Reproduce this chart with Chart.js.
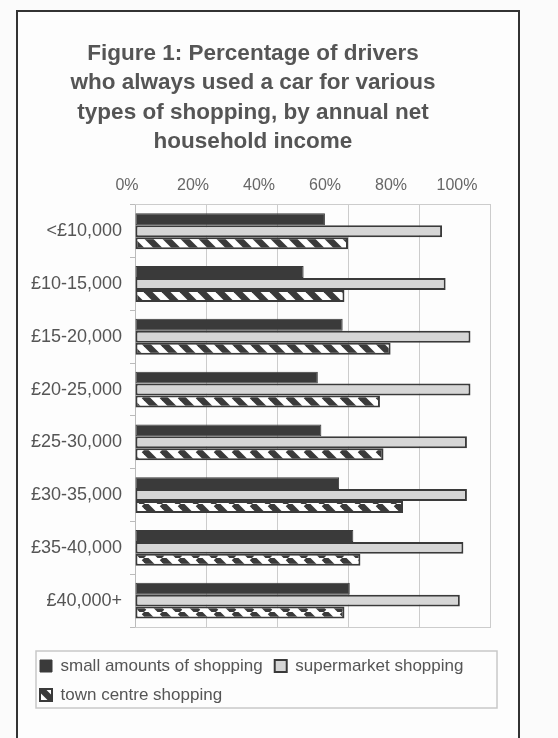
<!DOCTYPE html>
<html>
<head>
<meta charset="utf-8">
<script src="https://cdn.jsdelivr.net/npm/chart.js@4.4.1/dist/chart.umd.min.js"></script>
<style>
  html, body { margin: 0; padding: 0; background: #fbfbfb; }
  body { width: 558px; height: 738px; position: relative; overflow: hidden; }
  #frame { position: absolute; left: 16px; top: 10px; width: 500px; height: 800px; border: 2px solid #333; background: #fdfdfd; }
  #chart { position: absolute; left: 0; top: 0; }
</style>
</head>
<body>
<div id="frame"></div>
<canvas id="chart" width="558" height="738"></canvas>
<script>
// income bands and % of drivers who always used a car
const incomeBands = ['<£10,000', '£10-15,000', '£15-20,000', '£20-25,000', '£25-30,000', '£30-35,000', '£35-40,000', '£40,000+'];
const smallShopping = [53.5, 47.5, 58.5, 51.5, 52.5, 57.5, 61.5, 60.5];
const supermarketShopping = [86.5, 87.5, 94.5, 94.5, 93.5, 93.5, 92.5, 91.5];
const townCentreShopping = [60, 59, 72, 69, 70, 75.5, 63.5, 59];
const percentTicks = [0, 20, 40, 60, 80, 100];

const FONT = "'Liberation Sans', Arial, sans-serif";
const DARK = '#3a3a3a';

// diagonal hatch for the town centre bars
function makeHatch() {
    const p = 18;
    const c = document.createElement('canvas');
    c.width = p; c.height = p;
    const g = c.getContext('2d');
    g.fillStyle = '#ffffff';
    g.fillRect(0, 0, p, p);
    g.strokeStyle = DARK;
    g.lineWidth = 6.4;
    [-p, 0, p].forEach(function (o) {
        g.beginPath();
        g.moveTo(o, 0);
        g.lineTo(o + p, p);
        g.stroke();
    });
    return g.createPattern(c, 'repeat');
}
const hatch = makeHatch();

// nudge the legend and draw its box
const legendFrame = {
    id: 'legendFrame',
    afterLayout(chart) {
        const lg = chart.legend;
        lg.left += 12;
        lg.right += 12;
    },
    afterDraw(chart) {
        const lg = chart.legend;
        const ctx = chart.ctx;
        ctx.save();
        ctx.strokeStyle = '#c8c8c8';
        ctx.lineWidth = 1.5;
        ctx.strokeRect(lg.left + 8, lg.top + 5.5, lg.right - lg.left - 13, lg.bottom - lg.top - 11);
        ctx.restore();
    }
};

const ctx = document.getElementById('chart').getContext('2d');
const chart = new Chart(ctx, {
    type: 'bar',
    data: {
        labels: incomeBands,
        datasets: [
            {
                label: 'small amounts of shopping',
                data: smallShopping,
                backgroundColor: DARK,
                borderColor: DARK,
                borderWidth: 1
            },
            {
                label: 'supermarket shopping',
                data: supermarketShopping,
                backgroundColor: '#d6d6d6',
                borderColor: DARK,
                borderWidth: 2
            },
            {
                label: 'town centre shopping',
                data: townCentreShopping,
                backgroundColor: hatch,
                borderColor: DARK,
                borderWidth: 2
            }
        ]
    },
    options: {
        indexAxis: 'y',
        responsive: false,
        animation: false,
        categoryPercentage: 0.68,
        barPercentage: 1,
        datasets: { bar: { borderSkipped: false } },
        layout: { padding: { top: 12, left: 16, right: 68, bottom: 24.5 } },
        plugins: {
            title: {
                display: true,
                text: ['Figure 1: Percentage of drivers', 'who always used a car for various', 'types of shopping, by annual net', 'household income'],
                font: { family: FONT, size: 22.5, weight: 'bold', lineHeight: 1.31 },
                color: '#555',
                padding: { top: 27, bottom: 18 }
            },
            legend: {
                position: 'bottom',
                align: 'start',
                labels: {
                    boxWidth: 12,
                    boxHeight: 12,
                    padding: 12,
                    font: { family: FONT, size: 17 },
                    color: '#555'
                }
            },
            tooltip: { enabled: false }
        },
        scales: {
            y: {
                type: 'category',
                offset: true,
                grid: { offset: true, drawOnChartArea: false, tickLength: 5, color: '#bbb' },
                border: { color: '#bbb' },
                ticks: { padding: 8, font: { family: FONT, size: 18 }, color: '#555' },
                afterFit(s) { s.width = 119; }
            },
            x: {
                position: 'bottom',
                min: 0,
                max: 100,
                ticks: { display: false, stepSize: 20 },
                grid: { color: '#ccc', drawTicks: false },
                border: { color: '#ccc' },
                afterFit(s) { s.height = 18.5; }
            },
            xTop: {
                type: 'linear',
                axis: 'x',
                position: 'top',
                min: 2.42,
                max: 110,
                grid: { display: false },
                border: { color: '#ccc' },
                ticks: {
                    padding: 1.4,
                    font: { family: FONT, size: 16 },
                    color: '#666',
                    callback: function (v) { return v + '%'; }
                },
                afterBuildTicks(s) { s.ticks = percentTicks.map(function (v) { return { value: v }; }); }
            }
        }
    },
    plugins: [legendFrame]
});
</script>
</body>
</html>
